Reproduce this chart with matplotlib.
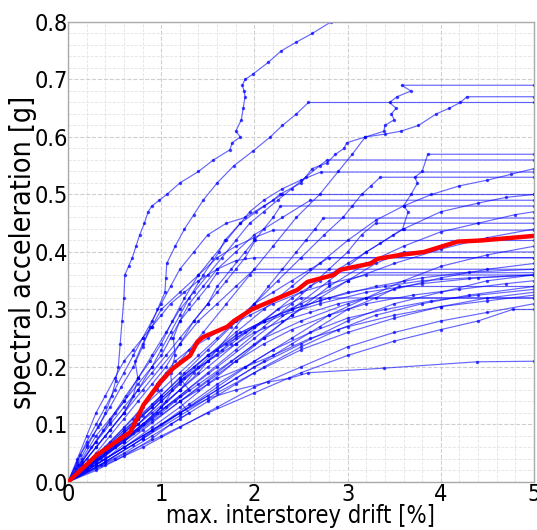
import numpy as np
import matplotlib
matplotlib.use("Agg")
import matplotlib.pyplot as plt
from matplotlib.ticker import MultipleLocator
from matplotlib import font_manager as fm

# ---- data: IDA curves (max interstorey drift [%], spectral acceleration [g]) ----
rec01_x = [0,0.07,0.13,0.2,0.27,0.34,0.4,0.47,0.51,0.54,0.56,0.58,0.6,0.61,0.65,0.69,0.73,0.77,0.82,0.86,0.9,0.98,1.06,1.2,1.4,1.56,1.74,1.76,1.85,1.8,1.86,1.88,1.9,1.89,1.87,1.9,1.99,2.15,2.29,2.45,2.62,2.82]
rec01_y = [0,0.025,0.047,0.065,0.082,0.10,0.12,0.15,0.175,0.2,0.24,0.28,0.32,0.36,0.375,0.39,0.41,0.43,0.45,0.47,0.48,0.49,0.5,0.52,0.54,0.56,0.578,0.59,0.60,0.61,0.63,0.65,0.67,0.68,0.69,0.70,0.71,0.73,0.75,0.765,0.78,0.80]
rec02_x = [0,0.1,0.2,0.32,0.45,0.57,0.7,0.8,0.88,0.96,1.04,1.05,1.06,1.15,1.25,1.35,1.45,1.6,1.78,1.98,2.17,2.3,2.45,2.58,5.0]
rec02_y = [0,0.03,0.06,0.095,0.13,0.165,0.2,0.235,0.27,0.30,0.33,0.355,0.38,0.41,0.44,0.465,0.49,0.52,0.55,0.575,0.60,0.62,0.64,0.66,0.66]
rec03_x = [0,0.15,0.3,0.45,0.6,0.75,0.9,1.0,1.1,1.2,1.3,1.45,1.62,1.68,1.85,2.02,2.2,2.27,2.5,2.62,2.78,2.87,2.96,2.99,3.19,3.39,3.4,3.5,3.47,3.52,3.45,3.53,3.68,3.58,5.0]
rec03_y = [0,0.03,0.06,0.09,0.12,0.16,0.2,0.23,0.26,0.29,0.32,0.36,0.40,0.42,0.45,0.47,0.49,0.5,0.52,0.545,0.555,0.57,0.58,0.59,0.60,0.61,0.62,0.63,0.64,0.65,0.66,0.67,0.68,0.69,0.69]
rec04_x = [0,0.2,0.45,0.7,0.95,1.2,1.45,1.7,1.95,2.2,2.45,2.7,2.9,3.05,3.19,3.4,3.57,3.76,3.95,4.09,4.21,4.28,5.0]
rec04_y = [0,0.03,0.07,0.11,0.16,0.21,0.26,0.31,0.36,0.41,0.46,0.50,0.54,0.57,0.60,0.605,0.61,0.62,0.64,0.65,0.66,0.67,0.67]
rec05_x = [0,0.3,0.6,0.9,1.2,1.5,1.8,2.1,2.4,2.7,3.0,3.2,3.35,3.49,3.59,3.65,3.6,3.68,3.75,3.72,3.8,3.86,5.0]
rec05_y = [0,0.04,0.08,0.12,0.16,0.20,0.24,0.28,0.32,0.35,0.38,0.40,0.415,0.43,0.44,0.47,0.48,0.50,0.52,0.53,0.54,0.57,0.57]
rec06_x = [0,0.15,0.3,0.45,0.6,0.75,0.9,1.05,1.2,1.35,1.5,1.65,1.8,1.95,2.1,2.25,2.4,2.55,2.7,2.78,5.0]
rec06_y = [0,0.035,0.07,0.105,0.14,0.18,0.22,0.26,0.30,0.33,0.36,0.39,0.42,0.45,0.47,0.49,0.51,0.53,0.55,0.56,0.56]
rec07_x = [0,0.3,0.6,0.9,1.2,1.5,1.8,2.1,2.4,2.7,3.0,3.3,3.6,3.9,4.2,4.5,4.75,5.0]
rec07_y = [0,0.04,0.085,0.13,0.175,0.22,0.26,0.30,0.34,0.38,0.42,0.455,0.48,0.50,0.515,0.525,0.535,0.545]
rec08_x = [0,0.12,0.25,0.38,0.5,0.62,0.75,0.88,1.0,1.12,1.25,1.4,1.55,1.7,1.85,1.95,2.1,2.3,2.5,2.71,5.0]
rec08_y = [0,0.03,0.06,0.09,0.12,0.15,0.18,0.21,0.24,0.28,0.32,0.36,0.39,0.42,0.45,0.47,0.49,0.51,0.525,0.539,0.539]
rec09_x = [0,0.25,0.5,0.75,1.0,1.25,1.5,1.75,2.0,2.25,2.5,2.75,2.95,3.05,3.15,3.25,3.35,5.0]
rec09_y = [0,0.035,0.07,0.11,0.15,0.19,0.23,0.27,0.31,0.35,0.39,0.43,0.46,0.48,0.50,0.515,0.53,0.53]
rec10_x = [0,0.4,0.8,1.2,1.6,2.0,2.4,2.8,3.2,3.6,4.0,4.4,4.7,5.0]
rec10_y = [0,0.05,0.1,0.15,0.2,0.25,0.3,0.35,0.4,0.44,0.47,0.485,0.495,0.50]
rec11_x = [0,0.15,0.3,0.45,0.6,0.75,0.9,1.05,1.2,1.35,1.5,1.6,1.75,1.9,2.0,2.1,2.2,2.28,5.0]
rec11_y = [0,0.025,0.05,0.08,0.11,0.14,0.17,0.2,0.24,0.28,0.31,0.34,0.37,0.40,0.42,0.44,0.46,0.48,0.48]
rec12_x = [0,0.4,0.8,1.2,1.6,2.0,2.4,2.8,3.2,3.6,4.0,4.4,4.8,5.0]
rec12_y = [0,0.04,0.09,0.14,0.19,0.24,0.29,0.34,0.38,0.41,0.435,0.45,0.465,0.47]
rec13_x = [0,0.2,0.4,0.6,0.8,1.0,1.2,1.4,1.6,1.8,2.0,2.15,2.3,2.45,2.55,2.65,2.74,5.0]
rec13_y = [0,0.025,0.05,0.075,0.1,0.13,0.16,0.19,0.23,0.27,0.31,0.34,0.37,0.4,0.42,0.44,0.459,0.459]
rec14_x = [0,0.3,0.6,0.9,1.2,1.5,1.8,2.1,2.4,2.6,2.8,3.0,3.15,3.3,5.0]
rec14_y = [0,0.035,0.07,0.11,0.15,0.19,0.23,0.27,0.31,0.34,0.37,0.40,0.43,0.45,0.45]
rec15_x = [0,0.3,0.6,0.9,1.2,1.5,1.8,2.1,2.5,3.0,3.5,4.0,4.5,5.0]
rec15_y = [0,0.045,0.09,0.135,0.18,0.22,0.255,0.28,0.31,0.35,0.38,0.405,0.425,0.44]
rec16_x = [0,0.15,0.3,0.45,0.6,0.75,0.9,1.05,1.2,1.35,1.5,1.6,1.7,1.8,1.9,2.01,5.0]
rec16_y = [0,0.035,0.07,0.10,0.13,0.16,0.19,0.22,0.25,0.28,0.31,0.33,0.35,0.37,0.39,0.42,0.42]
rec17_x = [0,0.4,0.8,1.2,1.6,2.0,2.4,2.8,3.2,3.6,4.0,4.5,5.0]
rec17_y = [0,0.035,0.075,0.12,0.165,0.21,0.25,0.29,0.32,0.35,0.375,0.395,0.41]
rec18_x = [0,0.3,0.6,0.9,1.2,1.5,1.8,2.1,2.4,2.7,3.0,3.3,3.6,5.0]
rec18_y = [0,0.03,0.06,0.095,0.13,0.17,0.21,0.25,0.29,0.32,0.35,0.38,0.40,0.40]
rec19_x = [0,0.2,0.4,0.6,0.8,1.0,1.2,1.4,1.6,1.8,2.0,2.2,2.4,2.6,2.8,5.0]
rec19_y = [0,0.03,0.06,0.095,0.13,0.16,0.19,0.22,0.25,0.28,0.31,0.33,0.35,0.37,0.39,0.39]
rec20_x = [0,0.35,0.7,1.05,1.4,1.75,2.1,2.5,3.0,3.5,4.0,4.5,5.0]
rec20_y = [0,0.04,0.085,0.13,0.17,0.21,0.25,0.28,0.31,0.335,0.355,0.37,0.38]
rec21_x = [0,0.2,0.4,0.6,0.8,1.0,1.2,1.4,1.6,1.8,2.0,5.0]
rec21_y = [0,0.04,0.08,0.12,0.16,0.2,0.24,0.28,0.31,0.34,0.37,0.37]
rec22_x = [0,0.15,0.3,0.45,0.6,0.75,0.9,1.0,1.1,1.2,1.3,1.4,1.5,1.6,5.0]
rec22_y = [0,0.04,0.08,0.11,0.14,0.17,0.2,0.22,0.25,0.28,0.30,0.32,0.34,0.364,0.364]
rec23_x = [0,0.4,0.8,1.2,1.6,2.0,2.5,3.0,3.5,4.0,4.5,5.0]
rec23_y = [0,0.04,0.08,0.12,0.16,0.2,0.24,0.28,0.31,0.33,0.35,0.36]
rec24_x = [0,0.3,0.6,0.9,1.2,1.5,1.8,2.1,2.4,2.7,3.0,3.3,3.55,5.0]
rec24_y = [0,0.03,0.06,0.09,0.12,0.15,0.18,0.21,0.24,0.27,0.30,0.32,0.34,0.34]
rec25_x = [0,0.4,0.8,1.2,1.6,2.0,2.5,3.0,3.5,4.0,4.5,5.0]
rec25_y = [0,0.035,0.075,0.115,0.155,0.19,0.23,0.26,0.285,0.305,0.32,0.33]
rec26_x = [0,0.25,0.5,0.75,1.0,1.25,1.5,1.75,2.0,2.25,2.5,5.0]
rec26_y = [0,0.03,0.06,0.1,0.14,0.18,0.21,0.24,0.27,0.30,0.32,0.32]
rec27_x = [0,0.4,0.8,1.2,1.6,2.0,2.5,3.0,3.5,4.0,4.5,5.0]
rec27_y = [0,0.03,0.06,0.095,0.13,0.165,0.2,0.235,0.26,0.28,0.295,0.31]
rec28_x = [0,0.5,1.0,1.5,2.0,2.5,3.0,3.5,4.0,4.4,4.77,5.0]
rec28_y = [0,0.04,0.08,0.12,0.155,0.19,0.22,0.245,0.265,0.28,0.30,0.30]
rec29_x = [0,0.3,0.6,0.9,1.2,1.5,1.8,2.15,2.37,2.58,3.39,4.39,5.0]
rec29_y = [0,0.03,0.06,0.09,0.12,0.145,0.16,0.174,0.18,0.19,0.198,0.209,0.21]
rec30_x = [0,0.2,0.4,0.6,0.8,0.95,1.05,1.12,1.1,1.15,1.13,1.2,1.3,1.45,1.6,1.8,2.0,2.3,2.6,5.0]
rec30_y = [0,0.025,0.05,0.075,0.1,0.12,0.14,0.16,0.19,0.22,0.25,0.28,0.31,0.34,0.37,0.40,0.43,0.46,0.49,0.49]
rec31_x = [0,0.15,0.3,0.45,0.6,0.7,0.75,0.72,0.8,0.9,1.0,1.2,1.4,1.6,1.8,2.0,2.2,5.0]
rec31_y = [0,0.03,0.06,0.09,0.12,0.15,0.18,0.21,0.24,0.27,0.30,0.33,0.36,0.39,0.41,0.425,0.438,0.438]
rec32_x = [0,0.25,0.5,0.75,1.0,1.15,1.3,1.2,1.35,1.5,1.7,1.9,2.1,2.4,2.8,3.3,3.8,4.3,5.0]
rec32_y = [0,0.03,0.06,0.09,0.12,0.14,0.16,0.18,0.2,0.22,0.24,0.26,0.28,0.30,0.32,0.34,0.355,0.365,0.37]
rec33_x = [0,0.2,0.4,0.6,0.8,1.0,1.2,1.35,1.5,1.65,1.8,2.0,2.3,2.7,3.2,3.8,4.4,5.0]
rec33_y = [0,0.02,0.045,0.07,0.1,0.13,0.16,0.19,0.21,0.23,0.25,0.27,0.29,0.31,0.33,0.345,0.355,0.36]
rec34_x = [0,0.3,0.6,0.9,1.1,1.3,1.2,1.4,1.6,1.9,2.2,2.6,3.0,3.5,4.0,4.5,5.0]
rec34_y = [0,0.02,0.045,0.075,0.1,0.12,0.14,0.16,0.18,0.2,0.22,0.25,0.27,0.29,0.305,0.315,0.325]
rec35_x = [0,0.1,0.2,0.3,0.4,0.5,0.6,0.7,0.8,0.9,1.0,1.1,1.25,1.4,1.6,1.8,2.0,5.0]
rec35_y = [0,0.04,0.08,0.12,0.15,0.18,0.21,0.23,0.25,0.27,0.29,0.31,0.33,0.35,0.37,0.385,0.39,0.39]
rec36_x = [0,0.15,0.3,0.45,0.6,0.75,0.9,1.0,0.95,1.05,1.15,1.3,1.5,1.7,1.95,2.2,2.5,2.8,3.2,5.0]
rec36_y = [0,0.02,0.04,0.065,0.09,0.11,0.13,0.15,0.17,0.19,0.21,0.23,0.25,0.27,0.29,0.31,0.33,0.345,0.36,0.36]
rec37_x = [0,0.35,0.7,1.0,1.3,1.6,1.9,2.2,2.6,3.0,3.4,3.9,4.4,5.0]
rec37_y = [0,0.03,0.065,0.1,0.135,0.17,0.2,0.23,0.26,0.285,0.30,0.315,0.325,0.335]
rec38_x = [0,0.1,0.2,0.3,0.4,0.5,0.6,0.7,0.8,0.9,1.0,1.1,1.2,1.35,1.5,1.7,1.9,2.1,2.3,5.0]
rec38_y = [0,0.035,0.07,0.1,0.13,0.16,0.19,0.22,0.25,0.28,0.31,0.34,0.37,0.40,0.43,0.45,0.46,0.48,0.50,0.50]
rec39_x = [0,0.3,0.6,0.9,1.2,1.5,1.8,2.1,2.5,2.9,3.3,3.8,4.3,5.0]
rec39_y = [0,0.025,0.05,0.08,0.11,0.14,0.17,0.2,0.235,0.265,0.29,0.31,0.325,0.34]
rec40_x = [0,0.25,0.5,0.75,1.0,1.2,1.4,1.6,1.85,2.1,2.4,2.7,3.0,3.4,3.8,4.3,5.0]
rec40_y = [0,0.03,0.065,0.1,0.14,0.17,0.2,0.23,0.26,0.28,0.30,0.315,0.33,0.34,0.35,0.355,0.36]
rec41_x = [0,0.3,0.6,0.9,1.2,1.5,1.8,2.1,2.4,2.8,3.2,3.7,4.2,4.7,5.0]
rec41_y = [0,0.035,0.07,0.105,0.14,0.175,0.21,0.24,0.265,0.29,0.31,0.325,0.335,0.345,0.35]
rec42_x = [0,0.2,0.4,0.6,0.8,1.0,1.2,1.4,1.6,1.8,2.0,2.3,2.6,2.9,3.2,5.0]
rec42_y = [0,0.025,0.055,0.085,0.115,0.145,0.175,0.2,0.22,0.24,0.26,0.28,0.295,0.31,0.32,0.32]

median_x = [0,0.31,0.67,0.74,0.81,0.99,1.13,1.31,1.39,1.45,1.71,1.78,1.97,2.2,2.46,2.57,2.85,2.92,3.25,3.32,3.57,3.82,4.18,4.43,5.0]
median_y = [0,0.047,0.087,0.11,0.134,0.174,0.198,0.22,0.244,0.252,0.27,0.28,0.30,0.316,0.334,0.348,0.36,0.369,0.38,0.388,0.395,0.40,0.418,0.42,0.428]

records = [
    (rec01_x, rec01_y), (rec02_x, rec02_y), (rec03_x, rec03_y), (rec04_x, rec04_y),
    (rec05_x, rec05_y), (rec06_x, rec06_y), (rec07_x, rec07_y), (rec08_x, rec08_y),
    (rec09_x, rec09_y), (rec10_x, rec10_y), (rec11_x, rec11_y), (rec12_x, rec12_y),
    (rec13_x, rec13_y), (rec14_x, rec14_y), (rec15_x, rec15_y), (rec16_x, rec16_y),
    (rec17_x, rec17_y), (rec18_x, rec18_y), (rec19_x, rec19_y), (rec20_x, rec20_y),
    (rec21_x, rec21_y), (rec22_x, rec22_y), (rec23_x, rec23_y), (rec24_x, rec24_y),
    (rec25_x, rec25_y), (rec26_x, rec26_y), (rec27_x, rec27_y), (rec28_x, rec28_y),
    (rec29_x, rec29_y), (rec30_x, rec30_y), (rec31_x, rec31_y), (rec32_x, rec32_y),
    (rec33_x, rec33_y), (rec34_x, rec34_y), (rec35_x, rec35_y), (rec36_x, rec36_y),
    (rec37_x, rec37_y), (rec38_x, rec38_y), (rec39_x, rec39_y), (rec40_x, rec40_y),
    (rec41_x, rec41_y), (rec42_x, rec42_y),
]

x_ticks = [0, 1, 2, 3, 4, 5]
y_ticks = [0.0, 0.1, 0.2, 0.3, 0.4, 0.5, 0.6, 0.7, 0.8]
x_label = 'max. interstorey drift [%]'
y_label = 'spectral acceleration [g]'

# ---- font: prefer a condensed face (reference glyphs are narrow/tall) ----
cond_path = None
for f in fm.fontManager.ttflist:
    fn = f.fname.replace('\\', '/').split('/')[-1]
    if fn == 'DejaVuSansCondensed.ttf':
        cond_path = f.fname
        break
if cond_path is None:
    for f in fm.fontManager.ttflist:
        fn = f.fname.replace('\\', '/').split('/')[-1]
        if fn == 'LiberationSansNarrow-Regular.ttf':
            cond_path = f.fname
            break

if cond_path is not None:
    def fp(size):
        return fm.FontProperties(fname=cond_path, size=size)
    tick_size, xl_size, yl_size = 16.8, 17.0, 20.5
else:
    def fp(size):
        return fm.FontProperties(family='DejaVu Sans', size=size)
    tick_size, xl_size, yl_size = 16.0, 15.4, 18.6

# ---- figure ----
fig = plt.figure(figsize=(5.37, 5.30), dpi=100)
ax = fig.add_axes([0.1266, 0.0906, 0.8678, 0.8679])

for xs, ys in records:
    ax.plot(xs, ys, color='#0000ff', lw=0.85, alpha=0.6, marker='o', ms=1.5,
            mec='#0000ff', mfc='#0000ff', zorder=2)

ax.plot(median_x, median_y, color='#ff0000', lw=3.2, zorder=3, solid_joinstyle='round')

ax.set_xlim(0, 5)
ax.set_ylim(0, 0.8)
ax.set_xticks(x_ticks)
ax.set_xticklabels([str(v) for v in x_ticks], fontproperties=fp(tick_size))
ax.set_yticks(y_ticks)
ax.set_yticklabels([f"{v:.1f}" for v in y_ticks], fontproperties=fp(tick_size))
ax.xaxis.set_minor_locator(MultipleLocator(0.2))
ax.yaxis.set_minor_locator(MultipleLocator(0.02))
ax.grid(which='major', color='#cfcfcf', ls='--', lw=0.8, zorder=0)
ax.grid(which='minor', color='#e3e3e3', ls='--', lw=0.6, zorder=0)
ax.set_axisbelow(True)
ax.tick_params(axis='x', which='both', length=0, pad=1)
ax.tick_params(axis='y', which='both', length=0, pad=0)
for s in ax.spines.values():
    s.set_color('#aaaaaa')
    s.set_linewidth(1.0)

ax.set_xlabel(x_label, fontproperties=fp(xl_size), labelpad=-2)
ax.set_ylabel(y_label, fontproperties=fp(yl_size), labelpad=-2)

fig.savefig('out.png', dpi=100)
